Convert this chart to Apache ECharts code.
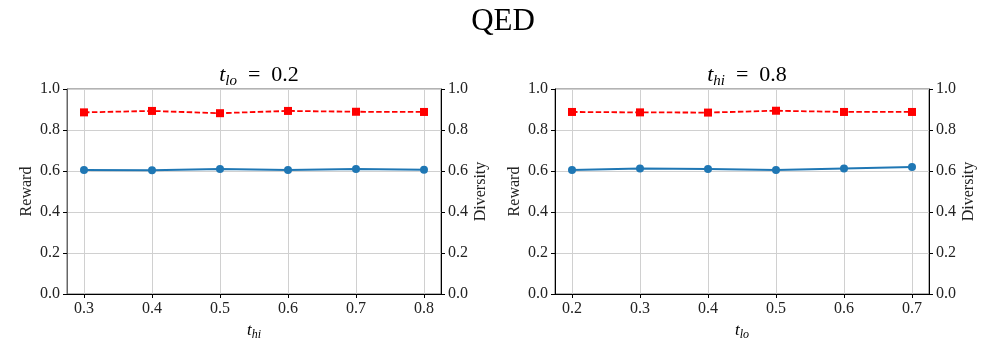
<!DOCTYPE html>
<html>
<head>
<meta charset="utf-8">
<script src="https://cdn.jsdelivr.net/npm/echarts@6.0.0/dist/echarts.min.js"></script>
<style>
  html, body { margin: 0; padding: 0; background: #fff; }
  #chart { width: 996px; height: 356px; }
</style>
</head>
<body>
<div id="chart"></div>
<script>
// left panel: t_lo fixed at 0.2, sweep t_hi
var tHiValues = [0.3, 0.4, 0.5, 0.6, 0.7, 0.8];
var rewardLeft = [0.605, 0.604, 0.610, 0.605, 0.610, 0.606];
var diversityLeft = [0.886, 0.893, 0.882, 0.893, 0.889, 0.888];

// right panel: t_hi fixed at 0.8, sweep t_lo
var tLoValues = [0.2, 0.3, 0.4, 0.5, 0.6, 0.7];
var rewardRight = [0.605, 0.612, 0.610, 0.605, 0.612, 0.619];
var diversityRight = [0.888, 0.886, 0.885, 0.894, 0.888, 0.888];

var FONT = 'Liberation Serif';
var BLUE = '#1f77b4';
var RED = '#ff0000';

function pairs(xs, ys) {
    return xs.map(function (x, i) { return [x, ys[i]]; });
}

var richSub = {
    t: { fontFamily: FONT, fontStyle: 'italic', fontWeight: 'normal', fontSize: 22, color: '#000' },
    s: { fontFamily: FONT, fontStyle: 'italic', fontWeight: 'normal', fontSize: 15, color: '#000', padding: [12, 0, 0, 0] },
    n: { fontFamily: FONT, fontWeight: 'normal', fontSize: 22, color: '#000' }
};
var richAxis = {
    t: { fontFamily: FONT, fontStyle: 'italic', fontSize: 17, color: '#000' },
    s: { fontFamily: FONT, fontStyle: 'italic', fontSize: 12, color: '#000', padding: [9, 0, 0, 0] }
};

function xAxisFor(gridIndex, ticks, subName) {
    var lo = ticks[0] - 0.025, hi = ticks[ticks.length - 1] + 0.025;
    return {
        type: 'value', gridIndex: gridIndex, min: lo, max: hi,
        name: '{t|t}{s|' + subName + '}', nameLocation: 'middle', nameGap: 24,
        nameTextStyle: { rich: richAxis },
        axisLine: { show: true, onZero: false, lineStyle: { color: '#000', width: 1 } },
        axisTick: { show: true, customValues: ticks, length: 4, lineStyle: { color: '#000' } },
        axisLabel: { customValues: ticks, fontFamily: FONT, fontSize: 16, color: '#222', margin: 7,
            formatter: function (v) { return v.toFixed(1); } },
        splitLine: { show: true, lineStyle: { color: '#d0d0d0', width: 1 } }
    };
}

function yAxisFor(gridIndex, pos, name, lineColor) {
    return {
        type: 'value', gridIndex: gridIndex, position: pos, min: 0, max: 1, interval: 0.2,
        name: name, nameLocation: 'middle', nameGap: 32,
        nameTextStyle: { fontFamily: FONT, fontSize: 16, color: '#222' },
        axisLine: { show: true, lineStyle: { color: lineColor, width: 1 } },
        axisTick: { show: true, length: 4, lineStyle: { color: '#000' } },
        axisLabel: { fontFamily: FONT, fontSize: 16, color: '#222', margin: 7,
            formatter: function (v) { return v.toFixed(1); } },
        splitLine: { show: pos === 'left', lineStyle: { color: '#d0d0d0', width: 1 } }
    };
}

function rewardSeries(xi, yi, xs, ys) {
    return {
        type: 'line', xAxisIndex: xi, yAxisIndex: yi, data: pairs(xs, ys),
        symbol: 'circle', symbolSize: 8, color: BLUE,
        lineStyle: { color: BLUE, width: 2 }, itemStyle: { color: BLUE }, z: 3
    };
}

function diversitySeries(xi, yi, xs, ys) {
    return {
        type: 'line', xAxisIndex: xi, yAxisIndex: yi, data: pairs(xs, ys),
        symbol: 'rect', symbolSize: 8, color: RED,
        lineStyle: { color: RED, width: 1.8, type: [5.5, 2.4] }, itemStyle: { color: RED }, z: 4
    };
}

var myChart = echarts.init(document.getElementById('chart'), null, { renderer: 'canvas' });

var option = {
    animation: false,
    backgroundColor: '#fff',
    textStyle: { fontFamily: FONT },
    title: [
        { text: 'QED', left: 498, textAlign: 'center', top: 1,
          textStyle: { fontFamily: FONT, fontSize: 31, fontWeight: 'normal', color: '#000' } },
        { text: '{t|t}{s|lo}{n|  =  0.2}', left: 254, textAlign: 'center', top: 57,
          textStyle: { fontWeight: 'normal', rich: richSub } },
        { text: '{t|t}{s|hi}{n|  =  0.8}', left: 742, textAlign: 'center', top: 57,
          textStyle: { fontWeight: 'normal', rich: richSub } }
    ],
    grid: [
        { left: 67, top: 89, width: 374, height: 205, show: true, borderColor: '#666', borderWidth: 1 },
        { left: 555, top: 89, width: 374, height: 205, show: true, borderColor: '#666', borderWidth: 1 }
    ],
    xAxis: [
        xAxisFor(0, tHiValues, 'hi'),
        xAxisFor(1, tLoValues, 'lo')
    ],
    yAxis: [
        yAxisFor(0, 'left', 'Reward', '#666'),
        yAxisFor(0, 'right', 'Diversity', '#000'),
        yAxisFor(1, 'left', 'Reward', '#000'),
        yAxisFor(1, 'right', 'Diversity', '#000')
    ],
    series: [
        rewardSeries(0, 0, tHiValues, rewardLeft),
        diversitySeries(0, 1, tHiValues, diversityLeft),
        rewardSeries(1, 2, tLoValues, rewardRight),
        diversitySeries(1, 3, tLoValues, diversityRight)
    ]
};

myChart.setOption(option);
</script>
</body>
</html>
